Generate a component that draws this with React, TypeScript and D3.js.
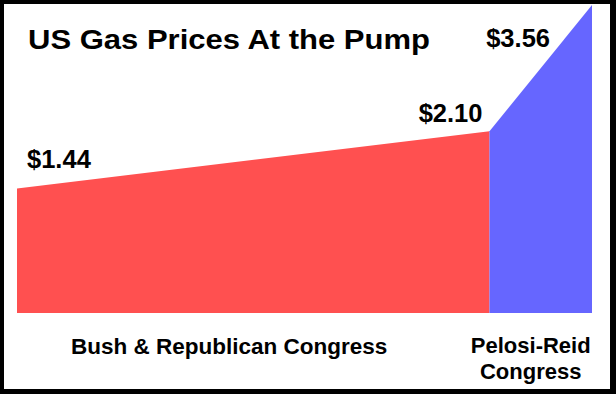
import React from "react";
import * as d3 from "d3";

const W = 616;
const H = 394;

// Data
const periodLabels = [["Bush & Republican Congress"], ["Pelosi-Reid", "Congress"]];
const dates = [new Date(2001, 0, 20), new Date(2007, 0, 4), new Date(2008, 3, 20)];
const prices = [1.44, 2.1, 3.56];
const priceLabels = ["$1.44", "$2.10", "$3.56"];
const title = "US Gas Prices At the Pump";
const colors = ["#FF5050", "#6666FF"];

export default function App() {
  const x = d3.scaleTime().domain([dates[0], dates[2]]).range([17, 592]);
  const y = d3.scaleLinear().domain([0, 3.56]).range([313, 5]);

  const area = d3
    .area<{ d: Date; v: number }>()
    .x((p) => x(p.d))
    .y0(y(0))
    .y1((p) => y(p.v));

  const segs = [0, 1].map((i) => [
    { d: dates[i], v: prices[i] },
    { d: dates[i + 1], v: prices[i + 1] },
  ]);

  // label placement (layout)
  const labelPos = [
    { dx: 10, dy: -20, anchor: "start" },
    { dx: -7, dy: -9, anchor: "end" },
    { dx: -42, dy: 42, anchor: "end" },
  ];

  const font = "'Liberation Sans', Arial, Helvetica, sans-serif";
  const mid0 = (x(dates[0]) + x(dates[1])) / 2;
  const mid1 = (x(dates[1]) + x(dates[2])) / 2;

  return (
    <svg
      width={W}
      height={H}
      style={{ position: "absolute", left: 0, top: 0, display: "block" }}
      fontFamily={font}
      fontWeight="bold"
    >
      <rect x={0} y={0} width={W} height={H} fill="#000" />
      <rect x={4} y={4} width={606} height={385} fill="#fff" />
      {segs.map((s, i) => (
        <path key={i} d={area(s) || ""} fill={colors[i]} />
      ))}
      <rect x={0} y={0} width={W} height={4} fill="#000" />
      <text x={28} y={49} fontSize={28} textLength={402} lengthAdjust="spacingAndGlyphs" fill="#000">
        {title}
      </text>
      {prices.map((v, i) => (
        <text
          key={i}
          x={x(dates[i]) + labelPos[i].dx}
          y={y(v) + labelPos[i].dy}
          fontSize={25.5}
          textAnchor={labelPos[i].anchor as any}
          fill="#000"
        >
          {priceLabels[i]}
        </text>
      ))}
      <text x={mid0 - 24} y={354} fontSize={22.5} textAnchor="middle" fill="#000">
        {periodLabels[0][0]}
      </text>
      {periodLabels[1].map((t, j) => (
        <text key={j} x={mid1 - 10} y={353 + j * 26} fontSize={22} textAnchor="middle" fill="#000">
          {t}
        </text>
      ))}
    </svg>
  );
}
